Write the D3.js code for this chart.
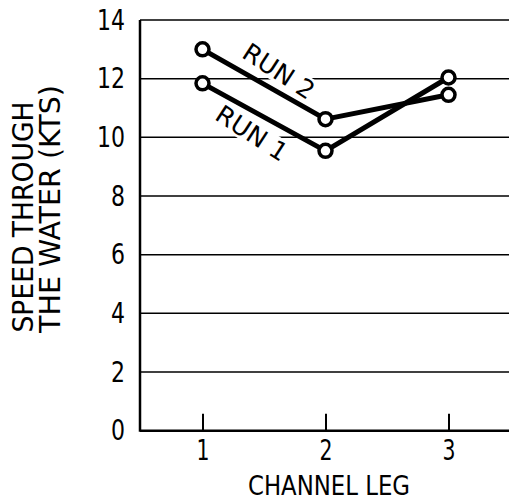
<!DOCTYPE html>
<html><head><meta charset="utf-8">
<script src="https://cdn.jsdelivr.net/npm/d3@7"></script>
<style>
html,body{margin:0;padding:0;background:#fff;}
svg{display:block;}
text{font-family:"DejaVu Sans Condensed","DejaVu Sans",sans-serif;font-weight:300;fill:#000;}
</style></head>
<body>
<script>
const legs = [1, 2, 3];
const run1 = [11.84, 9.54, 12.04];
const run2 = [13.0, 10.62, 11.45];
const yTicks = [0, 2, 4, 6, 8, 10, 12, 14];
const xTicks = [1, 2, 3];
const seriesNames = ["RUN 1", "RUN 2"];
const xTitle = "CHANNEL LEG";
const yTitle = ["SPEED THROUGH", "THE WATER (KTS)"];

const W = 509, H = 502;
const svg = d3.select("body").append("svg").attr("width", W).attr("height", H);

const pL = 140, pR = 509, pT = 20, pB = 430.7;
const x = d3.scaleLinear().domain([1, 3]).range([202.5, 448.5]);
const y = d3.scaleLinear().domain([0, 14]).range([pB, pT]);

// gridlines
svg.append("g").selectAll("line").data(yTicks.filter(d => d > 0)).join("line")
  .attr("x1", pL).attr("x2", pR)
  .attr("y1", d => y(d)).attr("y2", d => y(d))
  .attr("stroke", "#000").attr("stroke-width", 1.5);

// y axis labels
const yAxis = d3.axisLeft(y).tickValues(yTicks).tickSize(0).tickPadding(15).tickFormat(d3.format("d"));
const gy = svg.append("g").attr("transform", `translate(${pL},0)`).call(yAxis);
gy.select(".domain").remove();
gy.selectAll("text").style("font-size", "29px").attr("font-family", null)
  .attr("textLength", d => String(d).length * 14).attr("lengthAdjust", "spacingAndGlyphs");

// x axis: ticks pointing up
const xAxis = d3.axisBottom(x).tickValues(xTicks).tickSize(-17).tickPadding(29).tickFormat(d3.format("d"));
const gx = svg.append("g").attr("transform", `translate(0,${pB})`).call(xAxis);
gx.select(".domain").remove();
gx.selectAll("line").attr("stroke", "#000").attr("stroke-width", 2);
gx.selectAll("text").style("font-size", "28px").attr("font-family", null).attr("dy", "0")
  .attr("textLength", 13).attr("lengthAdjust", "spacingAndGlyphs");

// axis lines
svg.append("line").attr("x1", pL).attr("x2", pL).attr("y1", pT).attr("y2", pB + 1)
  .attr("stroke", "#000").attr("stroke-width", 2.5);
svg.append("line").attr("x1", pL).attr("x2", pR).attr("y1", pB).attr("y2", pB)
  .attr("stroke", "#000").attr("stroke-width", 2.5);

// titles
svg.append("text").attr("x", 329).attr("y", 495).attr("text-anchor", "middle")
  .style("font-size", "27px").attr("textLength", 162).attr("lengthAdjust", "spacingAndGlyphs").text(xTitle);
svg.append("text").attr("transform", "translate(33,217) rotate(-90)").attr("text-anchor", "middle")
  .style("font-size", "28px").attr("textLength", 231).attr("lengthAdjust", "spacingAndGlyphs").text(yTitle[0]);
svg.append("text").attr("transform", "translate(60,209) rotate(-90)").attr("text-anchor", "middle")
  .style("font-size", "28px").attr("textLength", 248).attr("lengthAdjust", "spacingAndGlyphs").text(yTitle[1]);

// series labels (white background to break gridlines)
const lab = [
  {t: "RUN  2", cx: 279, cy: 71, len: 80},
  {t: "RUN  1", cx: 252, cy: 133, len: 80}
];
lab.forEach(l => {
  const g = svg.append("g").attr("transform", `translate(${l.cx},${l.cy}) rotate(33)`);
  g.append("rect").attr("x", -l.len/2 - 4).attr("y", -12).attr("width", l.len + 8).attr("height", 24).attr("fill", "#fff");
  g.append("text").attr("text-anchor", "middle").attr("dy", "0.36em")
    .style("font-size", "25px").attr("textLength", l.len).attr("lengthAdjust", "spacingAndGlyphs").text(l.t);
});

// lines
const line = d3.line().x((d, i) => x(legs[i])).y(d => y(d));
[run1, run2].forEach(s => {
  svg.append("path").attr("d", line(s)).attr("fill", "none")
    .attr("stroke", "#000").attr("stroke-width", 5).attr("stroke-linejoin", "round");
});
[run1, run2].forEach(s => {
  svg.append("g").selectAll("circle").data(s).join("circle")
    .attr("cx", (d, i) => x(legs[i])).attr("cy", d => y(d)).attr("r", 6.5)
    .attr("fill", "#fff").attr("stroke", "#000").attr("stroke-width", 3.5);
});
</script>
</body></html>
